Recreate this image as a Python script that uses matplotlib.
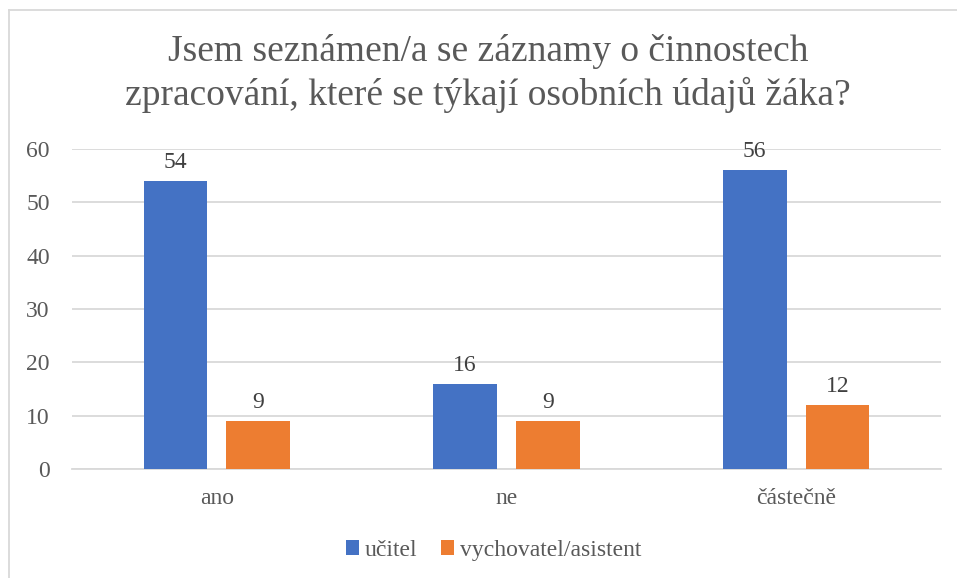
import matplotlib
matplotlib.use("Agg")
import matplotlib.pyplot as plt
import numpy as np
from matplotlib.lines import Line2D

categories = ["ano", "ne", "částečně"]
series_names = ["učitel", "vychovatel/asistent"]
ucitel = [54, 16, 56]
vychovatel = [9, 9, 12]
yticks = [0, 10, 20, 30, 40, 50, 60]

colors = ["#4472C4", "#ED7D31"]
txt = "#595959"
grid = "#D9D9D9"

plt.rcParams['font.family'] = ['Liberation Serif', 'DejaVu Serif']

fig = plt.figure(figsize=(9.57, 5.78), dpi=100)
ax = fig.add_axes([0.0752, 0.1886, 0.9081, 0.5536])

x = np.arange(len(categories))
w = 0.22
off = 0.143
for vals, c, name, d in [(ucitel, colors[0], series_names[0], -off),
                         (vychovatel, colors[1], series_names[1], off)]:
    bars = ax.bar(x + d, vals, w, color=c, label=name, zorder=3)
    for b, v in zip(bars, vals):
        ax.text(b.get_x() + b.get_width() / 2, v + 1.5, str(v), ha='center',
                va='bottom', fontsize=17, color="#404040")

ax.set_xlim(-0.5, 2.5)
ax.set_ylim(0, 60)
ax.set_yticks(yticks)
ax.set_xticks(x)
ax.set_xticklabels(categories)
ax.yaxis.grid(True, color=grid, linewidth=1.3, zorder=0)
ax.set_axisbelow(True)
for s in ['top', 'right', 'left']:
    ax.spines[s].set_visible(False)
ax.spines['bottom'].set_color(grid)
ax.spines['bottom'].set_linewidth(1.3)
ax.tick_params(axis='both', length=0, labelsize=17, colors=txt)
ax.tick_params(axis='y', pad=16)
ax.tick_params(axis='x', pad=14)

fig.text(0.51, 0.872, "Jsem seznámen/a se záznamy o činnostech\nzpracování, které se týkají osobních údajů žáka?",
         ha='center', va='center', fontsize=27, color=txt, linespacing=1.28)

leg = fig.legend(loc='center', bbox_to_anchor=(0.516, 0.048), ncol=2, frameon=False,
                 fontsize=17, handlelength=0.55, handleheight=0.55, handletextpad=0.25,
                 columnspacing=1.0, labelcolor=txt)

# outer chart border (top and left visible)
fig.add_artist(Line2D([9/957, 1.0], [1 - 10/578, 1 - 10/578], transform=fig.transFigure,
                      color=grid, linewidth=1.3))
fig.add_artist(Line2D([9/957, 9/957], [0, 1 - 10/578], transform=fig.transFigure,
                      color=grid, linewidth=1.3))

fig.savefig("out.png", dpi=100, facecolor='white')
